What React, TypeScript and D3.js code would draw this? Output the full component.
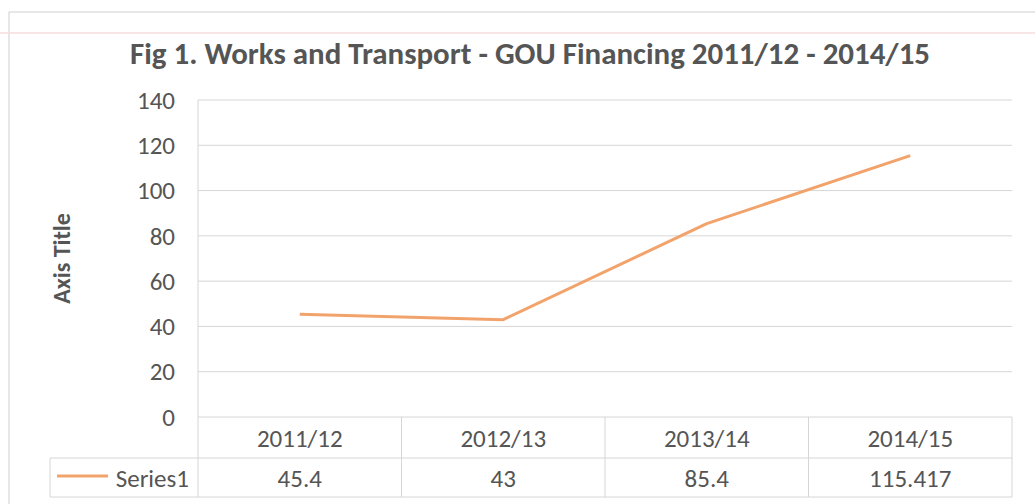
import * as d3 from "d3";
import { useEffect, useRef } from "react";

const categories = ["2011/12", "2012/13", "2013/14", "2014/15"];
const series1 = [45.4, 43, 85.4, 115.417];
const valueLabels = ["45.4", "43", "85.4", "115.417"];
const yTicks = [0, 20, 40, 60, 80, 100, 120, 140];
const seriesName = "Series1";

export default function App() {
  const width = 1035;
  const height = 504;
  const chartRef = useRef<SVGSVGElement>(null);

  useEffect(() => {
    const svg = d3.select(chartRef.current);
    svg.selectAll("*").remove();

    const font = "Carlito, Lato, 'Open Sans', sans-serif";
    const textColor = "#555555";
    const gridColor = "#d6d6d6";
    const left = 198;
    const right = 1012;
    const top = 100;
    const bottom = 417;
    const labelSize = 25;

    const x = d3.scaleBand().domain(categories).range([left, right]);
    const y = d3.scaleLinear().domain([0, 140]).range([bottom, top]);

    svg.append("rect").attr("width", width).attr("height", height).attr("fill", "#fff");

    // outer chart frame + scan artifact
    svg.append("path")
      .attr("d", `M9,${height} V12 H${width}`)
      .attr("fill", "none")
      .attr("stroke", "#cfcfcf")
      .attr("stroke-width", 1);
    svg.append("line")
      .attr("x1", 0).attr("x2", width).attr("y1", 33).attr("y2", 33)
      .attr("stroke", "#f6dede").attr("stroke-width", 1.5);

    // title
    svg.append("text")
      .attr("x", 530)
      .attr("y", 64)
      .attr("text-anchor", "middle")
      .attr("font-family", font)
      .attr("font-weight", "bold")
      .attr("font-size", 31)
      .attr("fill", textColor)
      .attr("textLength", 800)
      .attr("lengthAdjust", "spacingAndGlyphs")
      .text("Fig 1. Works and Transport  - GOU Financing 2011/12 - 2014/15");

    // gridlines
    svg.append("g")
      .selectAll("line")
      .data(yTicks)
      .join("line")
      .attr("x1", left)
      .attr("x2", right)
      .attr("y1", (d) => y(d))
      .attr("y2", (d) => y(d))
      .attr("stroke", gridColor)
      .attr("stroke-width", 1);

    svg.append("line")
      .attr("x1", left).attr("x2", left).attr("y1", top).attr("y2", bottom)
      .attr("stroke", gridColor);

    // y tick labels
    svg.append("g")
      .attr("font-family", font)
      .attr("font-size", labelSize)
      .attr("fill", textColor)
      .attr("text-anchor", "end")
      .selectAll("text")
      .data(yTicks)
      .join("text")
      .attr("x", 175)
      .attr("y", (d) => y(d))
      .attr("dy", "0.35em")
      .text((d) => d);

    // axis title
    svg.append("text")
      .attr("transform", `translate(70,${(top + bottom) / 2}) rotate(-90)`)
      .attr("text-anchor", "middle")
      .attr("font-family", font)
      .attr("font-weight", "bold")
      .attr("font-size", 24)
      .attr("fill", textColor)
      .text("Axis Title");

    // data table
    const rowMid = 458;
    const tableBottom = 497;
    const table = svg.append("g").attr("stroke", gridColor).attr("fill", "none");
    table.append("line").attr("x1", 50).attr("x2", right).attr("y1", rowMid).attr("y2", rowMid);
    table.append("line").attr("x1", 50).attr("x2", right).attr("y1", tableBottom).attr("y2", tableBottom);
    table.append("line").attr("x1", 50).attr("x2", 50).attr("y1", rowMid).attr("y2", tableBottom);
    table.selectAll(".v")
      .data([...categories.map((c) => x(c) as number), right])
      .join("line")
      .attr("x1", (d) => d)
      .attr("x2", (d) => d)
      .attr("y1", bottom)
      .attr("y2", tableBottom);

    svg.append("g")
      .attr("font-family", font)
      .attr("font-size", labelSize)
      .attr("fill", textColor)
      .attr("text-anchor", "middle")
      .selectAll("text")
      .data(categories)
      .join("text")
      .attr("x", (d) => (x(d) as number) + x.bandwidth() / 2)
      .attr("y", 447)
      .text((d) => d);

    svg.append("g")
      .attr("font-family", font)
      .attr("font-size", labelSize)
      .attr("fill", textColor)
      .attr("text-anchor", "middle")
      .selectAll("text")
      .data(categories)
      .join("text")
      .attr("x", (d) => (x(d) as number) + x.bandwidth() / 2)
      .attr("y", 487)
      .text((d, i) => valueLabels[i]);

    // legend key
    svg.append("line")
      .attr("x1", 57).attr("x2", 108).attr("y1", 476).attr("y2", 476)
      .attr("stroke", "#f2a36b").attr("stroke-width", 3);
    svg.append("text")
      .attr("x", 189)
      .attr("y", 487)
      .attr("text-anchor", "end")
      .attr("font-family", font)
      .attr("font-size", labelSize)
      .attr("fill", textColor)
      .text(seriesName);

    // series line
    const line = d3
      .line<number>()
      .x((d, i) => (x(categories[i]) as number) + x.bandwidth() / 2)
      .y((d) => y(d));

    svg.append("path")
      .datum(series1)
      .attr("fill", "none")
      .attr("stroke", "#f2a36b")
      .attr("stroke-width", 3)
      .attr("stroke-linejoin", "round")
      .attr("d", line);
  }, []);

  return (
    <div>
      <svg
        ref={chartRef}
        width={width}
        height={height}
        style={{ position: "absolute", left: 0, top: 0 }}
      ></svg>
    </div>
  );
}
